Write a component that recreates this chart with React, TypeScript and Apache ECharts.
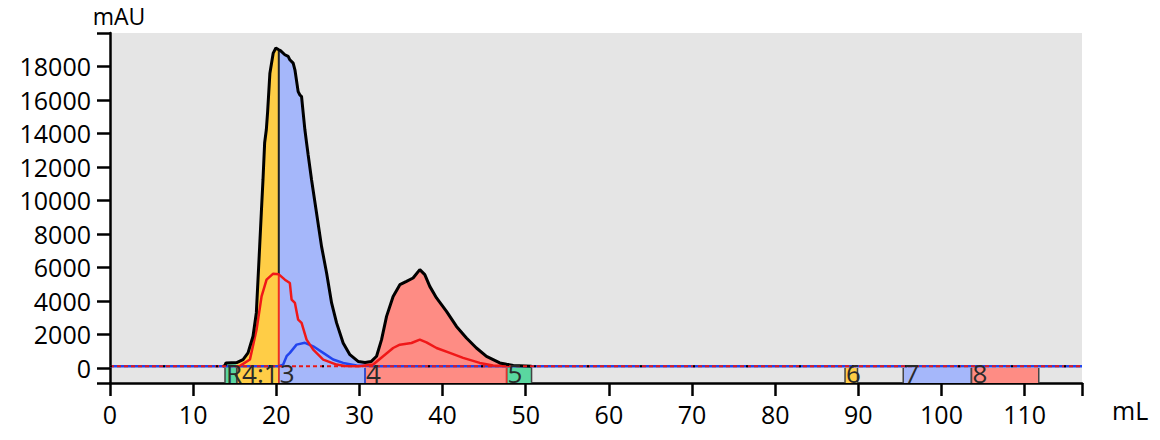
import React, { useEffect, useRef } from "react";
import * as echarts from "echarts";

// ---- data ----
const X_MAX = 116.9;
const Y_MIN = -900;
const Y_MAX = 20000;

const xTickLabels = [0, 10, 20, 30, 40, 50, 60, 70, 80, 90, 100, 110];
const yTickLabels = [0, 2000, 4000, 6000, 8000, 10000, 12000, 14000, 16000, 18000];

// UV trace (black), [mL, mAU]
const uvPoints: [number, number][] = [
  [13.6, 100], [13.83, 150], [13.95, 300], [15.24, 320], [16.0, 500], [16.6, 900],
  [17.2, 1900], [17.6, 3300], [17.8, 5270], [18.0, 7260], [18.2, 9270], [18.4, 11240],
  [18.6, 13450], [18.8, 14220], [18.95, 15240], [19.23, 17600], [19.63, 18800],
  [19.95, 19100], [20.3, 19000], [20.5, 18950], [21.03, 18700], [21.43, 18600],
  [21.63, 18400], [22.03, 18200], [22.24, 17800], [22.63, 16500], [22.84, 16300],
  [23.04, 16200], [23.23, 15240], [23.44, 14220], [23.64, 13450], [23.83, 12730],
  [24.24, 11240], [24.84, 9250], [25.44, 7260], [26.05, 5670], [26.65, 3880],
  [27.25, 2690], [28.04, 1490], [28.85, 790], [29.84, 390], [30.67, 330], [31.4, 380],
  [32.06, 700], [32.66, 1690], [33.26, 3080], [34.05, 4270], [34.86, 4970],
  [35.66, 5170], [36.45, 5370], [37.26, 5870], [37.86, 5570], [38.46, 4870],
  [39.27, 4180], [40.47, 3380], [41.67, 2480], [42.87, 1790], [44.07, 1190],
  [45.28, 690], [46.88, 300], [47.7, 220], [48.5, 150], [50.7, 100],
];

// second trace (red), [mL, mAU]
const redPoints: [number, number][] = [
  [15.0, 100], [15.63, 120], [16.83, 500], [17.63, 2290], [18.23, 4270], [18.83, 5270],
  [19.63, 5630], [20.3, 5590], [21.03, 5270], [21.63, 5070], [21.84, 4080],
  [22.24, 3880], [22.63, 2880], [23.04, 2690], [23.64, 1690], [24.44, 1090],
  [25.64, 500], [27.25, 200], [28.25, 120], [30.0, 100], [31.65, 200], [32.85, 700],
  [34.05, 1190], [34.86, 1390], [36.26, 1490], [37.26, 1690], [38.06, 1530],
  [39.27, 1190], [40.87, 900], [42.47, 600], [44.47, 300], [46.07, 140], [48.0, 100],
];

// third trace (blue), [mL, mAU]
const bluePoints: [number, number][] = [
  [0, 100], [20.3, 100], [20.83, 200], [21.24, 700], [21.63, 900], [22.44, 1390],
  [23.44, 1500], [24.44, 1290], [25.64, 900], [26.84, 500], [28.04, 300],
  [29.65, 140], [32.0, 100], [116.9, 100],
];

// flat traces along the baseline
const baselinePoints: [number, number][] = [[0, 100], [116.9, 100]];

// fractions
const fractionStarts = [13.83, 15.24, 20.3, 30.67, 47.7, 88.4, 95.4, 103.6];
const fractionEnds = [15.24, 20.3, 30.67, 47.7, 50.7, 89.9, 103.6, 111.7];
const fractionLabels = ["R4:1", "", "3", "4", "5", "6", "7", "8"];

// ---- styles ----
const GREEN = "#5ad7a0";
const YELLOW = "#ffcd46";
const BLUE = "#a5b7fa";
const RED = "#fe8c84";
const FRACTION_COLORS = [GREEN, YELLOW, BLUE, RED, GREEN, YELLOW, BLUE, RED];
const FRACTION_EDGES = ["#444", "#444", "#e8302a", "#2a4af0", "#e8302a", "#444", "#444", "#444"];
const FONT = "'Open Sans', 'Noto Sans', sans-serif";

function valueAt(points: [number, number][], x: number): number {
  const p = points.find((q) => q[0] === x);
  return p ? p[1] : 0;
}

export default function App() {
  const ref = useRef<HTMLDivElement>(null);

  useEffect(() => {
    document.body.style.margin = "0";
    if (!ref.current) return;
    const chart = echarts.init(ref.current, undefined, { renderer: "svg" });

    const fillSeries = fractionStarts
      .map((s, i) => {
        const e = fractionEnds[i];
        const pts = uvPoints.filter((p) => p[0] >= s && p[0] <= e);
        if (pts.length < 2) return null;
        return {
          type: "line",
          data: pts,
          symbol: "none",
          z: 1,
          lineStyle: { width: 0 },
          areaStyle: { color: FRACTION_COLORS[i], opacity: 1 },
          silent: true,
        };
      })
      .filter(Boolean);

    const bx = fractionStarts[2];
    const redAtB = valueAt(redPoints, bx);
    const uvAtB = valueAt(uvPoints, bx);

    const option: any = {
      animation: false,
      grid: {
        left: 110,
        right: 78,
        top: 33,
        bottom: 57,
        show: true,
        backgroundColor: "#e5e5e5",
        borderWidth: 0,
      },
      xAxis: {
        type: "value",
        min: 0,
        max: X_MAX,
        splitLine: { show: false },
        axisLine: { onZero: false, lineStyle: { color: "#000", width: 2.5 } },
        axisTick: {
          customValues: [...xTickLabels, X_MAX],
          length: 13,
          lineStyle: { color: "#000", width: 2.5 },
        },
        axisLabel: {
          customValues: xTickLabels,
          margin: 18,
          fontSize: 25,
          fontFamily: FONT,
          color: "#000",
          formatter: (v: number) => String(v),
        },
      },
      yAxis: {
        type: "value",
        min: Y_MIN,
        max: Y_MAX,
        splitLine: { show: false },
        axisLine: { show: true, lineStyle: { color: "#000", width: 2.5 } },
        axisTick: {
          show: true,
          customValues: [Y_MIN, ...yTickLabels, Y_MAX],
          length: 13,
          lineStyle: { color: "#000", width: 2.5 },
        },
        axisLabel: {
          customValues: yTickLabels,
          margin: 19,
          fontSize: 25,
          fontFamily: FONT,
          color: "#000",
          formatter: (v: number) => String(v),
        },
      },
      graphic: [
        {
          type: "text",
          x: 119,
          y: 3,
          style: {
            text: "mAU",
            fontSize: 23,
            lineHeight: 26,
            fontFamily: FONT,
            fill: "#000",
            align: "center",
            verticalAlign: "top",
          },
        },
        {
          type: "text",
          x: 1112,
          y: 410,
          style: {
            text: "mL",
            fontSize: 25,
            fontFamily: FONT,
            fill: "#000",
            align: "left",
            verticalAlign: "middle",
          },
        },
      ],
      series: [
        ...fillSeries,
        {
          type: "line",
          data: [[bx, 0], [bx, redAtB]],
          symbol: "none",
          z: 2,
          lineStyle: { color: "#f03020", width: 2 },
        },
        {
          type: "line",
          data: [[bx, redAtB], [bx, uvAtB]],
          symbol: "none",
          z: 2,
          lineStyle: { color: "#222", width: 2 },
        },
        {
          type: "line",
          data: bluePoints,
          symbol: "none",
          z: 3,
          lineStyle: { color: "#2244ee", width: 2.5 },
        },
        {
          type: "line",
          data: redPoints,
          symbol: "none",
          z: 4,
          lineStyle: { color: "#f01818", width: 2.5 },
        },
        {
          type: "line",
          data: uvPoints,
          symbol: "none",
          z: 5,
          lineStyle: { color: "#000", width: 3 },
        },
        {
          type: "line",
          data: baselinePoints,
          symbol: "none",
          z: 6,
          lineStyle: { color: "#e81818", width: 2, type: [4, 3] },
        },
        {
          type: "line",
          data: baselinePoints,
          symbol: "none",
          z: 7,
          lineStyle: { color: "#000", width: 2, type: [2, 51] },
        },
        {
          type: "custom",
          z: 8,
          data: fractionStarts.map((s, i) => [s, fractionEnds[i], i]),
          encode: { x: [0, 1] },
          renderItem: (params: any, api: any) => {
            const s = api.value(0);
            const e = api.value(1);
            const i = api.value(2);
            const p0 = api.coord([s, 0]);
            const p1 = api.coord([e, Y_MIN]);
            return {
              type: "group",
              children: [
                {
                  type: "rect",
                  z2: 1,
                  shape: { x: p0[0], y: p0[1], width: p1[0] - p0[0], height: p1[1] - p0[1] },
                  style: { fill: FRACTION_COLORS[i], stroke: null },
                },
                {
                  type: "line",
                  z2: 2,
                  shape: { x1: p0[0], y1: p0[1], x2: p0[0], y2: p1[1] },
                  style: { stroke: FRACTION_EDGES[i], lineWidth: 1.5 },
                },
                {
                  type: "line",
                  z2: 2,
                  shape: { x1: p1[0], y1: p0[1], x2: p1[0], y2: p1[1] },
                  style: { stroke: "#444", lineWidth: 1.5 },
                },
              ],
            };
          },
        },
        {
          type: "custom",
          z: 9,
          data: fractionStarts.map((s, i) => [s, i]),
          encode: { x: 0 },
          renderItem: (params: any, api: any) => {
            const s = api.value(0);
            const i = api.value(1);
            const label = fractionLabels[i];
            if (!label) return null;
            const p0 = api.coord([s, 0]);
            return {
              type: "text",
              x: p0[0] + 1,
              y: p0[1] + 5,
              style: {
                text: label,
                fontSize: 26,
                fontFamily: FONT,
                fill: "#2a2a2a",
                align: "left",
                verticalAlign: "middle",
              },
            };
          },
        },
      ],
    };

    chart.setOption(option);
    return () => chart.dispose();
  }, []);

  return (
    <div
      ref={ref}
      style={{ position: "absolute", left: 0, top: 0, width: 1160, height: 440 }}
    />
  );
}
